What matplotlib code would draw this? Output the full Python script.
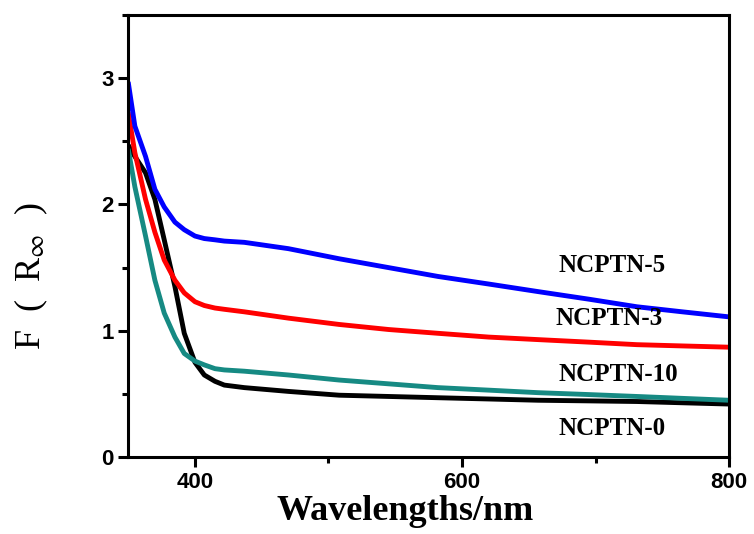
import matplotlib
matplotlib.use('Agg')
import matplotlib.pyplot as plt
from matplotlib.ticker import MultipleLocator

# wavelength grid (nm)
wl = [350, 355, 363, 370, 377, 385, 392, 400, 407, 415, 422, 437, 470, 508,
      545, 582, 620, 657, 695, 731, 765, 800]

ncptn5 = [2.97, 2.62, 2.38, 2.12, 1.98, 1.86, 1.80, 1.75, 1.73, 1.72, 1.71, 1.70,
          1.65, 1.57, 1.50, 1.43, 1.37, 1.31, 1.25, 1.19, 1.15, 1.11]
ncptn3 = [2.73, 2.41, 2.04, 1.78, 1.56, 1.40, 1.30, 1.23, 1.20, 1.18, 1.17, 1.15,
          1.10, 1.05, 1.01, 0.98, 0.95, 0.93, 0.91, 0.89, 0.88, 0.87]
ncptn10 = [2.44, 2.14, 1.75, 1.40, 1.14, 0.95, 0.82, 0.76, 0.73, 0.70, 0.69, 0.68,
           0.65, 0.61, 0.58, 0.55, 0.53, 0.51, 0.495, 0.48, 0.465, 0.45]
ncptn0 = [2.47, 2.38, 2.25, 2.04, 1.72, 1.35, 0.98, 0.75, 0.65, 0.60, 0.57, 0.55,
          0.52, 0.49, 0.48, 0.47, 0.46, 0.45, 0.445, 0.44, 0.43, 0.42]

series = [
    ('NCPTN-0', ncptn0, 'black', (672, 0.23)),
    ('NCPTN-10', ncptn10, '#168a83', (672, 0.65)),
    ('NCPTN-3', ncptn3, 'red', (670, 1.10)),
    ('NCPTN-5', ncptn5, 'blue', (672, 1.52)),
]

plt.rcParams['mathtext.fontset'] = 'stix'

fig = plt.figure(figsize=(7.54, 5.34), dpi=100)
ax = fig.add_axes([0.170, 0.144, 0.797, 0.828])

for name, vals, col, pos in series:
    ax.plot(wl, vals, color=col, lw=3.5, solid_capstyle='butt')
    ax.text(pos[0], pos[1], name, fontsize=18, fontweight='bold',
            family='Liberation Serif', va='center', ha='left')

ax.set_xlim(350, 800)
ax.set_ylim(0, 3.5)
ax.set_xticks([400, 600, 800])
ax.xaxis.set_minor_locator(MultipleLocator(100))
ax.yaxis.set_major_locator(MultipleLocator(1))
ax.yaxis.set_minor_locator(MultipleLocator(0.5))

for s in ax.spines.values():
    s.set_linewidth(2.2)
ax.tick_params(which='major', direction='out', length=7, width=2.2, labelsize=16)
ax.tick_params(which='minor', direction='out', length=4, width=2.2)
for lab in ax.get_xticklabels() + ax.get_yticklabels():
    lab.set_fontweight('bold')
    lab.set_family('Liberation Sans')

ax.set_xlabel('Wavelengths/nm', fontsize=26, fontweight='bold',
              family='Liberation Serif', labelpad=2)
ax.xaxis.label.set_x(0.461)
ax.set_ylabel(r'F  (  R$_{\infty}$  )', fontsize=26, family='Liberation Serif', labelpad=37)
ax.yaxis.label.set_y(0.41)

fig.savefig('out.png', dpi=100)
